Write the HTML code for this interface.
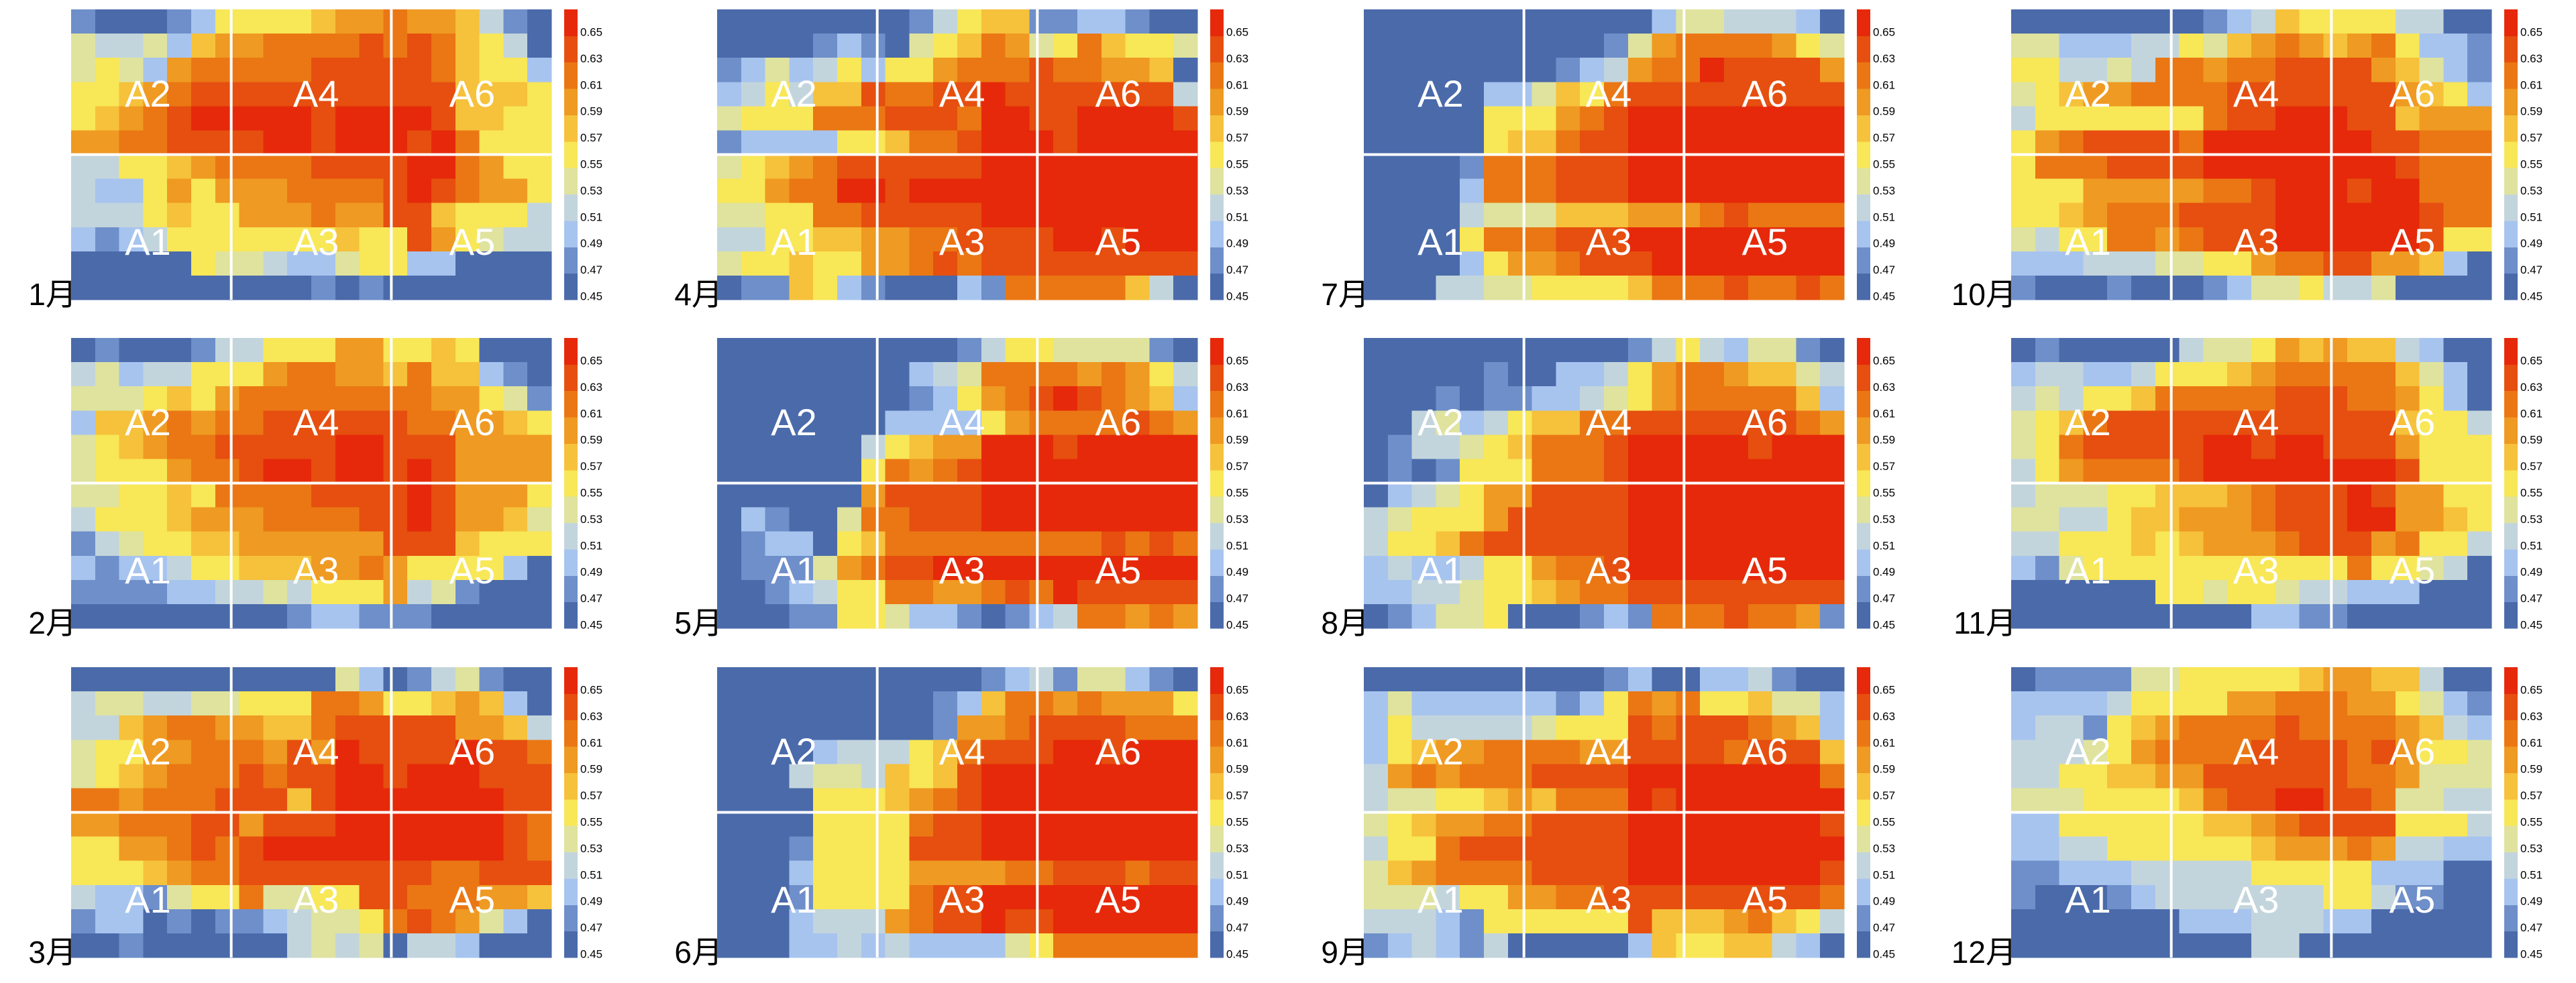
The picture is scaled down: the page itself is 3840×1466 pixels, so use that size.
<!DOCTYPE html>
<html><head><meta charset="utf-8"><style>
html,body{margin:0;padding:0;background:#fff;}
svg{display:block;}
</style></head><body>
<svg id="chart" width="3840" height="1466" viewBox="0 0 3840 1466" xmlns="http://www.w3.org/2000/svg"></svg>
<script>
// Data: each string is a row (top->bottom) of 20 cells; digit = level (0..9, 'a'=10); value = 0.45 + 0.02*level
const janRows = ["10001255556778776310","43342677888898986530","45427888889999986552","55678999999999996665","56789aaaaa9aaaa96655","77889999aa9aaa9a8555","33556788889999aa8755","32257577788889a98775","33356557778779965553","21235555555655975433","00000544322455220000","00000000001010000000"];
const febRows = ["01000133555775565000","34233555788776866210","44456578888888877541","26678788999999887765","45678899999aa9997777","45557889aa9aa9a97777","44556588889999a97775","35556777888899a97764","13455667777779996555","21223556667787555520","11112233435557341000","00000000012211100000"];
const marRows = ["00000000000420134100","34433445558875567620","33678877668999997763","45577888797a9999a998","45678889899aa9aaa999","88788899969aaaaaaa99","77888997999aaaaaaa98","55778989aaaaaaaaaa98","55567889999999988999","32214558445599888776","12201011234458987420","00100000034340332000"];
const aprRows = ["00000000135661122100","00001210456874586554","12423525578889887760","23536698899a99999993","45558889998aa99aaaa9","12222556889aaa9aaaaa","45678999999aaaaaaaaa","55788aa9aaaaaaaaaaaa","44558899999aaaaaaaaa","33556677889999aa9aaa","45565577898999999999","01165210002188888630"];
const mayRows = ["00000000001355444410","00000000234888878753","00000000125789a98762","00000002222578888987","00000035677aaa9aaaaa","00000058789aaaaaaaaa","00000079999aaaaaaaaa","02100488999aaaaaaaaa","01220568888888889898","011147899aaaaaaaaaaa","00123558877898a99999","00011554221012388787"];
const junRows = ["00000000000123144210","00000000012688787775","00000000017789999888","00002333568999aa9aaa","00034436569aaaaaaaaa","00005556789aaaaaaaaa","00005555899aaaaaaaaa","00015555999aaaaaaaaa","00025555777788999899","00015555899aaaaaaaaa","00023337899a99aaaaaa","00022323222245888888"];
const julRows = ["00000000000024433320","00000000001478888754","00000000123788a99997","00000224658999999999","00000555789aaaaaaaaa","00000566899aaaaaaaaa","00001888999aaaaaaaaa","00002888999aaaaaaaaa","00003444666777898888","00005888999aaaaaaaaa","000025778999aaaaaaaa","00033445555688898898"];
const augRows = ["00000000000135324410","00000100223578876643","00010112234578888862","00342356688999999987","01334568889aaaaa9aaa","01015558889aaaaaaaaa","02345779999aaaaaaaaa","34555799999aaaaaaaaa","35568999999aaaaaaaaa","23223557889aaaaaaaaa","22334556788999999999","01244500012188898871"];
const sepRows = ["00000000001200223100","24222222125878556442","25333334555989998762","25677888877999989996","37878889999aaaaaaaa8","34455676888a9aaaaaaa","45677889999aaaaaaaa9","35589999999aaaaaaaaa","46788889999aaaaaaaa9","44435577889999999998","33321555555966678653","12321300000265566320"];
const octRows = ["00000000123655553300","44222335467876785221","55334388788999976421","45677888899999997652","35555555899aaa996777","57899998aaaaaaa99888","58889999aaaaaaaa9888","55577777889aaa9aa888","55678889999aaaaaa988","43558878999aaaaaa955","22233344557889977620","10001000124453340000"];
const novRows = ["01000003445767663200","23322355567888886420","34355688888999887520","45689999999999996553","45899999aa9aa9997555","35788889aaaaaaaa9555","34445566678999a97755","44335667778999aa7765","33555656777899978553","21455555555555855430","00000055455433222000","00000000002211000000"];
const decRows = ["01111445555567766300","22223555577888775421","23315678888988887632","33345788889999897554","33556677999999887444","44455556899aa9984433","22555555667899995553","22335555556777873322","11222333335555522200","10001233333335531100","00000002223332200000","00000000003300000000"];
const monthLabels = ["1月","2月","3月","4月","5月","6月","7月","8月","9月","10月","11月","12月"];
const tickLabels = ["0.45","0.47","0.49","0.51","0.53","0.55","0.57","0.59","0.61","0.63","0.65"];
const regionLabels = ["A1","A2","A3","A4","A5","A6"];
const vmin = 0.45, vstep = 0.02;

const allRows=[janRows,febRows,marRows,aprRows,mayRows,junRows,julRows,augRows,sepRows,octRows,novRows,decRows];
const palette=["#4a6aaa","#6e8fc9","#a7c4ef","#c3d5dc","#dfe39e","#f8e757","#f6c13b","#ef9a22","#ea7714","#e64f0f","#e6290a"];
const NS="http://www.w3.org/2000/svg";
const svg=document.getElementById('chart');
const PL=[106,1069,2033,2998], PT=[14,504,995], W=716, H=433;
function mk(tag,attrs,parent){const e=document.createElementNS(NS,tag);for(const k in attrs)e.setAttribute(k,attrs[k]);parent.appendChild(e);return e;}
function parseVal(ch){return vmin+vstep*parseInt(ch,16);}
function colorOf(v){let i=Math.round((v-vmin)/vstep);i=Math.max(0,Math.min(10,i));return palette[i];}

allRows.forEach((rows,m)=>{
  const L=PL[Math.floor(m/3)], T=PT[m%3];
  const g=mk('g',{},svg);
  
  
  const ml=mk('text',{x:L+8,y:T+H+8,'text-anchor':'end','font-size':46,'font-family':'"Liberation Sans","Noto Sans CJK SC",sans-serif',fill:'#000'},g);
  ml.textContent=monthLabels[m];
  
  
  const hg=mk('g',{'shape-rendering':'crispEdges'},g);
  
  
  const nr=rows.length, nc=rows[0].length, cw=W/nc, ch=H/nr;
  rows.forEach((row,r)=>{
    for(let c=0;c<nc;c++){
      const v=parseVal(row[c]);
      const x=L+c*cw, y=T+r*ch;
      const rc=mk('rect',{x:x.toFixed(2),y:y.toFixed(2),width:(cw+0.6).toFixed(2),height:(ch+0.6).toFixed(2),fill:colorOf(v)},hg);
      
      
    }
  });
  [[L+W/3,T,L+W/3,T+H],[L+2*W/3,T,L+2*W/3,T+H],[L,T+H/2,L+W,T+H/2]].forEach(s=>{
    const ln=mk('line',{x1:s[0],y1:s[1],x2:s[2],y2:s[3],stroke:'#fff','stroke-width':4},g);
    
    
  });
  const lx=[0.16,0.16,0.51,0.51,0.835,0.835], ly=[0.80,0.29,0.80,0.29,0.80,0.29];
  regionLabels.forEach((t,i)=>{
    const tx=mk('text',{x:L+W*lx[i],y:T+H*ly[i],'text-anchor':'middle','dominant-baseline':'central','font-size':56,'font-family':'"Liberation Sans",sans-serif',fill:'#fff'},g);
    tx.textContent=t;
    
    
  });
  const cb=mk('g',{'shape-rendering':'crispEdges'},g);
  
  
  const bx=L+735, bh=H/11;
  for(let i=0;i<11;i++){
    const br=mk('rect',{x:bx,y:(T+H-(i+1)*bh).toFixed(2),width:20,height:(bh+0.5).toFixed(2),fill:palette[i]},cb);
    
    
  }
  tickLabels.forEach((t,i)=>{
    const tl=mk('text',{x:bx+24,y:(T+428-i*39.4).toFixed(1),'dominant-baseline':'central','font-size':17,'font-family':'"Liberation Sans",sans-serif',fill:'#000'},g);
    tl.textContent=t;
    
    
  });
});
</script>
</body></html>
